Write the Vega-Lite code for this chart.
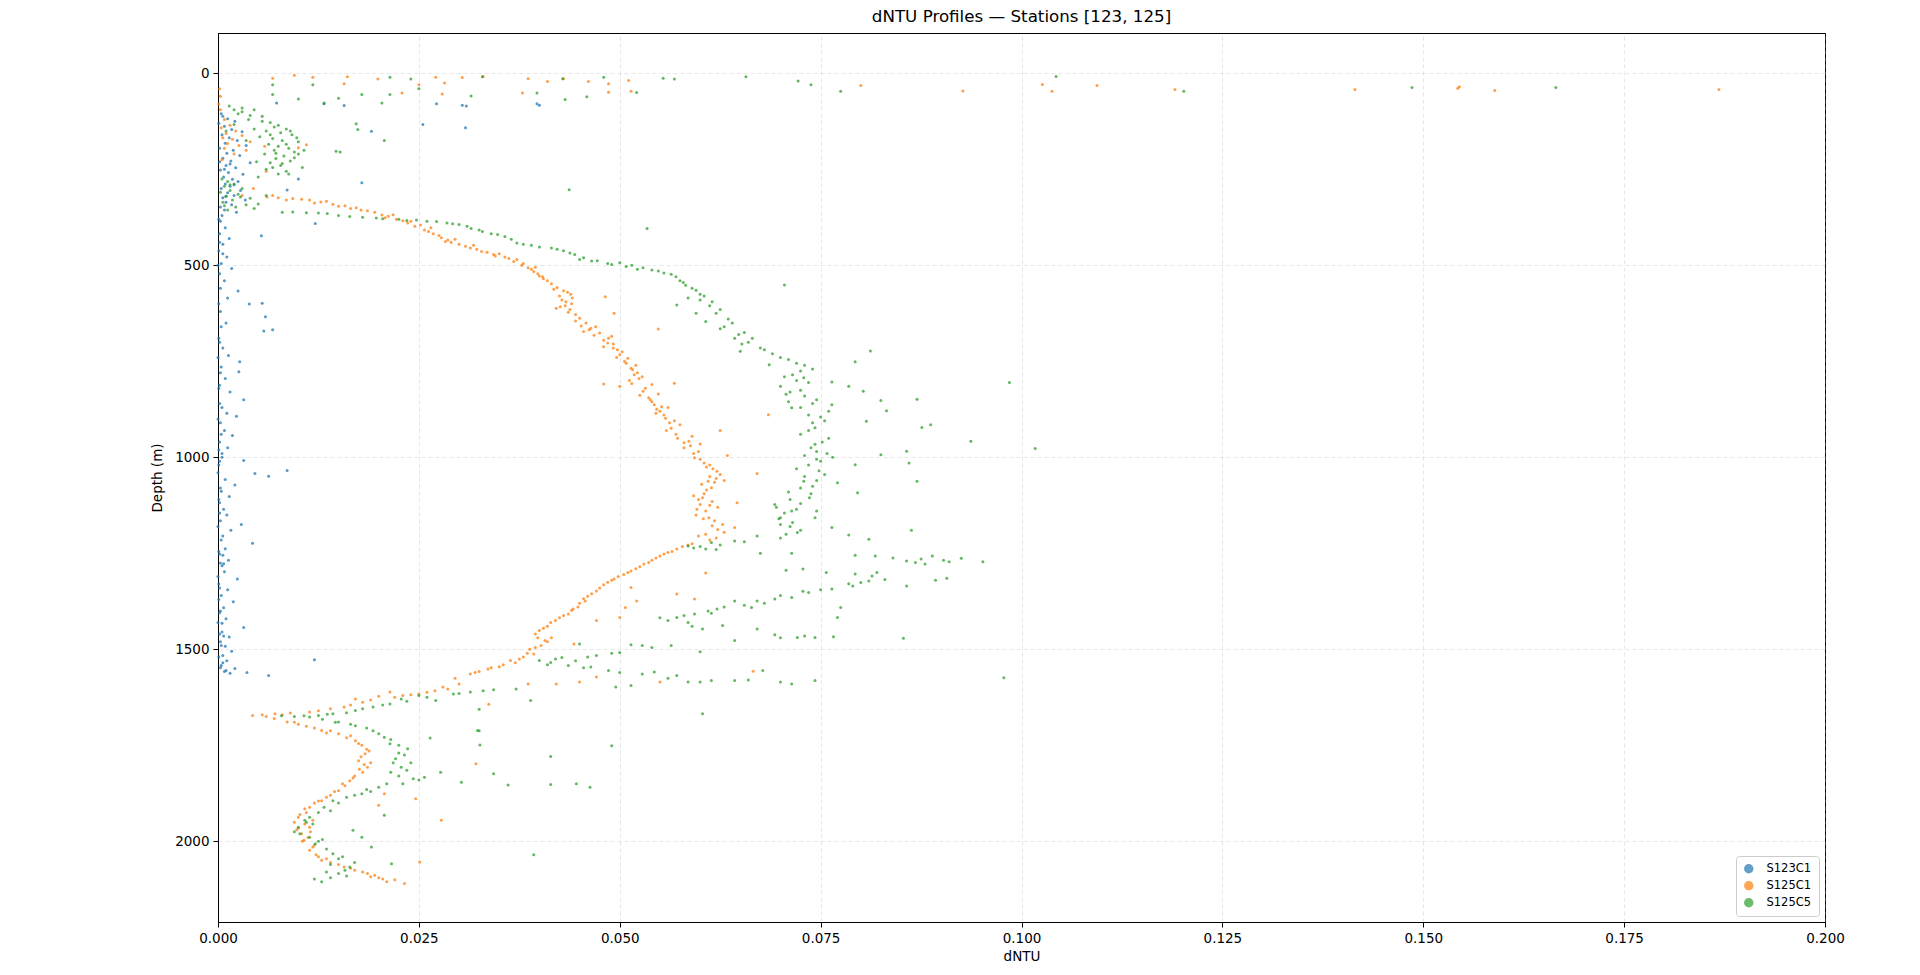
{
  "$schema": "https://vega.github.io/schema/vega-lite/v6.json",
  "width": 1607,
  "height": 889,
  "autosize": {"type": "none"},
  "padding": {"left": 218, "top": 33, "right": 95, "bottom": 53},
  "background": "white",
  "title": {
    "text": "dNTU Profiles — Stations [123, 125]",
    "fontSize": 16.7,
    "fontWeight": "normal",
    "font": "DejaVu Sans",
    "color": "black",
    "anchor": "middle",
    "offset": 7
  },
  "data": {
    "values": [
      {"s":"S123C1","x":0.0073,"d":77},{"s":"S123C1","x":0.0132,"d":79},{"s":"S123C1","x":0.0157,"d":84},{"s":"S123C1","x":0.0272,"d":79},{"s":"S123C1","x":0.0304,"d":83},{"s":"S123C1","x":0.0309,"d":85},{"s":"S123C1","x":0.0397,"d":79},{"s":"S123C1","x":0.0400,"d":83},{"s":"S123C1","x":0.0255,"d":133},{"s":"S123C1","x":0.0308,"d":142},{"s":"S123C1","x":0.0179,"d":285},{"s":"S123C1","x":0.0191,"d":151},{"s":"S123C1","x":0.0100,"d":275},{"s":"S123C1","x":0.0086,"d":304},{"s":"S123C1","x":0.0121,"d":391},{"s":"S123C1","x":0.0054,"d":423},
      {"s":"S123C1","x":0.0004,"d":105},{"s":"S123C1","x":0.0012,"d":118},{"s":"S123C1","x":0.0021,"d":125},{"s":"S123C1","x":0.0008,"d":138},{"s":"S123C1","x":0.0017,"d":146},{"s":"S123C1","x":0.0030,"d":152},{"s":"S123C1","x":0.0005,"d":160},{"s":"S123C1","x":0.0014,"d":168},{"s":"S123C1","x":0.0024,"d":175},{"s":"S123C1","x":0.0009,"d":182},{"s":"S123C1","x":0.0035,"d":188},{"s":"S123C1","x":0.0002,"d":195},{"s":"S123C1","x":0.0019,"d":200},{"s":"S123C1","x":0.0011,"d":208},{"s":"S123C1","x":0.0027,"d":214},{"s":"S123C1","x":0.0006,"d":221},{"s":"S123C1","x":0.0016,"d":228},{"s":"S123C1","x":0.0040,"d":233},{"s":"S123C1","x":0.0010,"d":240},{"s":"S123C1","x":0.0022,"d":246},{"s":"S123C1","x":0.0003,"d":252},{"s":"S123C1","x":0.0013,"d":258},{"s":"S123C1","x":0.0031,"d":263},{"s":"S123C1","x":0.0007,"d":270},{"s":"S123C1","x":0.0018,"d":276},{"s":"S123C1","x":0.0025,"d":282},{"s":"S123C1","x":0.0009,"d":288},{"s":"S123C1","x":0.0015,"d":294},{"s":"S123C1","x":0.0004,"d":300},{"s":"S123C1","x":0.0028,"d":305},{"s":"S123C1","x":0.0012,"d":311},{"s":"S123C1","x":0.0020,"d":318},{"s":"S123C1","x":0.0006,"d":324},{"s":"S123C1","x":0.0034,"d":330},{"s":"S123C1","x":0.0010,"d":336},{"s":"S123C1","x":0.0017,"d":342},{"s":"S123C1","x":0.0003,"d":348},{"s":"S123C1","x":0.0008,"d":356},{"s":"S123C1","x":0.0023,"d":362},{"s":"S123C1","x":0.0005,"d":370},
      {"s":"S123C1","x":0.0003,"d":385},{"s":"S123C1","x":0.0009,"d":402},{"s":"S123C1","x":0.0002,"d":418},{"s":"S123C1","x":0.0014,"d":430},{"s":"S123C1","x":0.0006,"d":445},{"s":"S123C1","x":0.0001,"d":462},{"s":"S123C1","x":0.0011,"d":478},{"s":"S123C1","x":0.0004,"d":495},{"s":"S123C1","x":0.0017,"d":508},{"s":"S123C1","x":0.0002,"d":522},{"s":"S123C1","x":0.0008,"d":540},{"s":"S123C1","x":0.0025,"d":567},{"s":"S123C1","x":0.0039,"d":601},{"s":"S123C1","x":0.0055,"d":599},{"s":"S123C1","x":0.0059,"d":634},{"s":"S123C1","x":0.0057,"d":671},{"s":"S123C1","x":0.0068,"d":668},{"s":"S123C1","x":0.0012,"d":585},{"s":"S123C1","x":0.0003,"d":620},{"s":"S123C1","x":0.0010,"d":650},{"s":"S123C1","x":0.0001,"d":690},{"s":"S123C1","x":0.0006,"d":715},{"s":"S123C1","x":0.0013,"d":735},{"s":"S123C1","x":0.0027,"d":751},{"s":"S123C1","x":0.0004,"d":765},{"s":"S123C1","x":0.0026,"d":777},{"s":"S123C1","x":0.0009,"d":795},{"s":"S123C1","x":0.0002,"d":812},{"s":"S123C1","x":0.0015,"d":830},{"s":"S123C1","x":0.0032,"d":850},{"s":"S123C1","x":0.0005,"d":870},{"s":"S123C1","x":0.0011,"d":885},{"s":"S123C1","x":0.0023,"d":893},{"s":"S123C1","x":0.0003,"d":910},{"s":"S123C1","x":0.0008,"d":930},{"s":"S123C1","x":0.0018,"d":943},{"s":"S123C1","x":0.0002,"d":960},{"s":"S123C1","x":0.0012,"d":975},{"s":"S123C1","x":0.0005,"d":990},{"s":"S123C1","x":0.0032,"d":1008},{"s":"S123C1","x":0.0001,"d":1020},{"s":"S123C1","x":0.0046,"d":1042},{"s":"S123C1","x":0.0063,"d":1049},{"s":"S123C1","x":0.0086,"d":1034},{"s":"S123C1","x":0.0009,"d":1058},{"s":"S123C1","x":0.0021,"d":1072},{"s":"S123C1","x":0.0004,"d":1088},{"s":"S123C1","x":0.0014,"d":1102},{"s":"S123C1","x":0.0002,"d":1118},{"s":"S123C1","x":0.0007,"d":1135},{"s":"S123C1","x":0.0011,"d":1150},{"s":"S123C1","x":0.0003,"d":1165},{"s":"S123C1","x":0.0029,"d":1175},{"s":"S123C1","x":0.0016,"d":1190},{"s":"S123C1","x":0.0006,"d":1205},{"s":"S123C1","x":0.0043,"d":1224},{"s":"S123C1","x":0.0009,"d":1238},{"s":"S123C1","x":0.0002,"d":1252},{"s":"S123C1","x":0.0013,"d":1268},{"s":"S123C1","x":0.0005,"d":1282},{"s":"S123C1","x":0.0008,"d":1298},{"s":"S123C1","x":0.0024,"d":1317},{"s":"S123C1","x":0.0001,"d":1330},{"s":"S123C1","x":0.0012,"d":1345},{"s":"S123C1","x":0.0004,"d":1360},{"s":"S123C1","x":0.0019,"d":1376},{"s":"S123C1","x":0.0007,"d":1392},{"s":"S123C1","x":0.0002,"d":1405},{"s":"S123C1","x":0.0010,"d":1420},{"s":"S123C1","x":0.0032,"d":1443},{"s":"S123C1","x":0.0005,"d":1455},{"s":"S123C1","x":0.0014,"d":1468},{"s":"S123C1","x":0.0003,"d":1480},{"s":"S123C1","x":0.0009,"d":1492},{"s":"S123C1","x":0.0017,"d":1505},{"s":"S123C1","x":0.0006,"d":1516},{"s":"S123C1","x":0.0120,"d":1527},{"s":"S123C1","x":0.0011,"d":1530},{"s":"S123C1","x":0.0004,"d":1542},{"s":"S123C1","x":0.0021,"d":1550},{"s":"S123C1","x":0.0036,"d":1560},{"s":"S123C1","x":0.0063,"d":1568},{"s":"S123C1","x":0.0008,"d":1558},{"s":"S123C1","x":0.0015,"d":1562},
      {"s":"S123C1","x":0.0001,"d":380},{"s":"S123C1","x":0.0002,"d":440},{"s":"S123C1","x":0.0000,"d":500},{"s":"S123C1","x":0.0003,"d":560},{"s":"S123C1","x":0.0001,"d":600},{"s":"S123C1","x":0.0004,"d":660},{"s":"S123C1","x":0.0002,"d":700},{"s":"S123C1","x":0.0000,"d":740},{"s":"S123C1","x":0.0003,"d":780},{"s":"S123C1","x":0.0001,"d":820},{"s":"S123C1","x":0.0002,"d":860},{"s":"S123C1","x":0.0000,"d":900},{"s":"S123C1","x":0.0004,"d":940},{"s":"S123C1","x":0.0001,"d":980},{"s":"S123C1","x":0.0002,"d":1010},{"s":"S123C1","x":0.0000,"d":1040},{"s":"S123C1","x":0.0003,"d":1080},{"s":"S123C1","x":0.0001,"d":1110},{"s":"S123C1","x":0.0002,"d":1145},{"s":"S123C1","x":0.0000,"d":1180},{"s":"S123C1","x":0.0004,"d":1215},{"s":"S123C1","x":0.0001,"d":1245},{"s":"S123C1","x":0.0003,"d":1275},{"s":"S123C1","x":0.0000,"d":1310},{"s":"S123C1","x":0.0002,"d":1340},{"s":"S123C1","x":0.0001,"d":1370},{"s":"S123C1","x":0.0003,"d":1400},{"s":"S123C1","x":0.0000,"d":1430},{"s":"S123C1","x":0.0002,"d":1460},{"s":"S123C1","x":0.0004,"d":1490},{"s":"S123C1","x":0.0001,"d":1520},{"s":"S123C1","x":0.0006,"d":1535},{"s":"S123C1","x":0.0003,"d":1548},{"s":"S123C1","x":0.0010,"d":1555},{"s":"S123C1","x":0.0007,"d":1465},{"s":"S123C1","x":0.0005,"d":1432},{"s":"S123C1","x":0.0006,"d":1255},{"s":"S123C1","x":0.0007,"d":1277},{"s":"S123C1","x":0.0005,"d":1000},{"s":"S123C1","x":0.0006,"d":470},{"s":"S123C1","x":0.0008,"d":250},{"s":"S123C1","x":0.0002,"d":230},{"s":"S123C1","x":0.0001,"d":130},{"s":"S123C1","x":0.0006,"d":112},{"s":"S123C1","x":0.0015,"d":236},{"s":"S123C1","x":0.0020,"d":290},{"s":"S123C1","x":0.0010,"d":320},
      {"s":"S125C1","x":0.0068,"d":13},{"s":"S125C1","x":0.0118,"d":10},{"s":"S125C1","x":0.0161,"d":9},{"s":"S125C1","x":0.0199,"d":15},{"s":"S125C1","x":0.0157,"d":27},{"s":"S125C1","x":0.0271,"d":10},{"s":"S125C1","x":0.0282,"d":25},{"s":"S125C1","x":0.0304,"d":11},{"s":"S125C1","x":0.0279,"d":54},{"s":"S125C1","x":0.0229,"d":51},{"s":"S125C1","x":0.0386,"d":14},{"s":"S125C1","x":0.0410,"d":21},{"s":"S125C1","x":0.0379,"d":51},{"s":"S125C1","x":0.0461,"d":21},{"s":"S125C1","x":0.0486,"d":27},{"s":"S125C1","x":0.0486,"d":49},{"s":"S125C1","x":0.0511,"d":19},{"s":"S125C1","x":0.0514,"d":47},{"s":"S125C1","x":0.0800,"d":32},{"s":"S125C1","x":0.0927,"d":46},{"s":"S125C1","x":0.1026,"d":29},{"s":"S125C1","x":0.1038,"d":47},{"s":"S125C1","x":0.1094,"d":32},{"s":"S125C1","x":0.1191,"d":42},{"s":"S125C1","x":0.1415,"d":42},{"s":"S125C1","x":0.1543,"d":39},{"s":"S125C1","x":0.1545,"d":35},{"s":"S125C1","x":0.1589,"d":45},{"s":"S125C1","x":0.1868,"d":42},{"s":"S125C1","x":0.0250,"d":30},{"s":"S125C1","x":0.0095,"d":5},{"s":"S125C1","x":0.0330,"d":8},{"s":"S125C1","x":0.0430,"d":14},
      {"s":"S125C1","x":0.0002,"d":40},{"s":"S125C1","x":0.0003,"d":60},{"s":"S125C1","x":0.0001,"d":80},{"s":"S125C1","x":0.0003,"d":95},{"s":"S125C1","x":0.0008,"d":120},{"s":"S125C1","x":0.0015,"d":135},{"s":"S125C1","x":0.0004,"d":142},{"s":"S125C1","x":0.0022,"d":150},{"s":"S125C1","x":0.0010,"d":157},{"s":"S125C1","x":0.0030,"d":162},{"s":"S125C1","x":0.0006,"d":168},{"s":"S125C1","x":0.0018,"d":172},{"s":"S125C1","x":0.0040,"d":178},{"s":"S125C1","x":0.0012,"d":183},{"s":"S125C1","x":0.0026,"d":188},{"s":"S125C1","x":0.0058,"d":190},{"s":"S125C1","x":0.0008,"d":195},{"s":"S125C1","x":0.0035,"d":200},{"s":"S125C1","x":0.0110,"d":186},{"s":"S125C1","x":0.0100,"d":194},{"s":"S125C1","x":0.0020,"d":210},{"s":"S125C1","x":0.0005,"d":225},{"s":"S125C1","x":0.0060,"d":255},{"s":"S125C1","x":0.0044,"d":300},{"s":"S125C1","x":0.0030,"d":318},
      {"s":"S125C1","x":0.0061,"d":322},{"s":"S125C1","x":0.0075,"d":324},{"s":"S125C1","x":0.0093,"d":326},{"s":"S125C1","x":0.0104,"d":328},{"s":"S125C1","x":0.0114,"d":330},{"s":"S125C1","x":0.0128,"d":335},{"s":"S125C1","x":0.0143,"d":341},{"s":"S125C1","x":0.0158,"d":345},{"s":"S125C1","x":0.0172,"d":350},{"s":"S125C1","x":0.0186,"d":358},{"s":"S125C1","x":0.0204,"d":369},{"s":"S125C1","x":0.0212,"d":372},{"s":"S125C1","x":0.0222,"d":380},{"s":"S125C1","x":0.0236,"d":390},{"s":"S125C1","x":0.0245,"d":398},{"s":"S125C1","x":0.0257,"d":408},{"s":"S125C1","x":0.0268,"d":418},{"s":"S125C1","x":0.0278,"d":428},{"s":"S125C1","x":0.0286,"d":434},{"s":"S125C1","x":0.0300,"d":445},{"s":"S125C1","x":0.0314,"d":455},{"s":"S125C1","x":0.0328,"d":464},{"s":"S125C1","x":0.0343,"d":472},{"s":"S125C1","x":0.0357,"d":478},{"s":"S125C1","x":0.0372,"d":485},{"s":"S125C1","x":0.0380,"d":495},{"s":"S125C1","x":0.0386,"d":506},{"s":"S125C1","x":0.0393,"d":516},{"s":"S125C1","x":0.0400,"d":528},{"s":"S125C1","x":0.0410,"d":540},{"s":"S125C1","x":0.0422,"d":558},{"s":"S125C1","x":0.0430,"d":566},{"s":"S125C1","x":0.0439,"d":575},{"s":"S125C1","x":0.0428,"d":590},{"s":"S125C1","x":0.0421,"d":612},{"s":"S125C1","x":0.0440,"d":600},{"s":"S125C1","x":0.0436,"d":622},{"s":"S125C1","x":0.0450,"d":638},{"s":"S125C1","x":0.0458,"d":650},{"s":"S125C1","x":0.0464,"d":664},{"s":"S125C1","x":0.0475,"d":676},{"s":"S125C1","x":0.0486,"d":690},{"s":"S125C1","x":0.0492,"d":705},{"s":"S125C1","x":0.0480,"d":712},{"s":"S125C1","x":0.0500,"d":733},{"s":"S125C1","x":0.0506,"d":750},{"s":"S125C1","x":0.0514,"d":768},{"s":"S125C1","x":0.0522,"d":780},{"s":"S125C1","x":0.0500,"d":815},{"s":"S125C1","x":0.0512,"d":800},{"s":"S125C1","x":0.0529,"d":828},{"s":"S125C1","x":0.0536,"d":845},{"s":"S125C1","x":0.0543,"d":863},{"s":"S125C1","x":0.0550,"d":880},{"s":"S125C1","x":0.0557,"d":898},{"s":"S125C1","x":0.0564,"d":924},{"s":"S125C1","x":0.0570,"d":940},{"s":"S125C1","x":0.0586,"d":958},{"s":"S125C1","x":0.0580,"d":975},{"s":"S125C1","x":0.0593,"d":1001},{"s":"S125C1","x":0.0605,"d":1015},{"s":"S125C1","x":0.0621,"d":1036},{"s":"S125C1","x":0.0612,"d":1050},{"s":"S125C1","x":0.0618,"d":1065},{"s":"S125C1","x":0.0614,"d":1079},{"s":"S125C1","x":0.0605,"d":1095},{"s":"S125C1","x":0.0598,"d":1110},{"s":"S125C1","x":0.0600,"d":1123},{"s":"S125C1","x":0.0607,"d":1140},{"s":"S125C1","x":0.0611,"d":1157},{"s":"S125C1","x":0.0628,"d":1175},{"s":"S125C1","x":0.0643,"d":1183},{"s":"S125C1","x":0.0607,"d":1200},{"s":"S125C1","x":0.0620,"d":1210},{"s":"S125C1","x":0.0590,"d":1225},{"s":"S125C1","x":0.0571,"d":1239},{"s":"S125C1","x":0.0550,"d":1257},{"s":"S125C1","x":0.0536,"d":1274},{"s":"S125C1","x":0.0525,"d":1285},{"s":"S125C1","x":0.0514,"d":1296},{"s":"S125C1","x":0.0493,"d":1317},{"s":"S125C1","x":0.0480,"d":1332},{"s":"S125C1","x":0.0471,"d":1348},{"s":"S125C1","x":0.0457,"d":1374},{"s":"S125C1","x":0.0448,"d":1390},{"s":"S125C1","x":0.0436,"d":1408},{"s":"S125C1","x":0.0414,"d":1430},{"s":"S125C1","x":0.0400,"d":1451},{"s":"S125C1","x":0.0407,"d":1477},{"s":"S125C1","x":0.0393,"d":1512},{"s":"S125C1","x":0.0380,"d":1520},{"s":"S125C1","x":0.0364,"d":1529},{"s":"S125C1","x":0.0336,"d":1551},{"s":"S125C1","x":0.0314,"d":1564},{"s":"S125C1","x":0.0286,"d":1603},{"s":"S125C1","x":0.0250,"d":1616},{"s":"S125C1","x":0.0214,"d":1611},{"s":"S125C1","x":0.0200,"d":1622},{"s":"S125C1","x":0.0171,"d":1629},{"s":"S125C1","x":0.0157,"d":1650},{"s":"S125C1","x":0.0114,"d":1663},{"s":"S125C1","x":0.0071,"d":1668},{"s":"S125C1","x":0.0043,"d":1672},{"s":"S125C1","x":0.0060,"d":1675},{"s":"S125C1","x":0.0086,"d":1689},{"s":"S125C1","x":0.0100,"d":1695},{"s":"S125C1","x":0.0129,"d":1711},{"s":"S125C1","x":0.0150,"d":1720},{"s":"S125C1","x":0.0171,"d":1738},{"s":"S125C1","x":0.0179,"d":1750},{"s":"S125C1","x":0.0183,"d":1772},{"s":"S125C1","x":0.0175,"d":1790},{"s":"S125C1","x":0.0186,"d":1807},{"s":"S125C1","x":0.0180,"d":1820},{"s":"S125C1","x":0.0164,"d":1842},{"s":"S125C1","x":0.0150,"d":1868},{"s":"S125C1","x":0.0129,"d":1894},{"s":"S125C1","x":0.0114,"d":1911},{"s":"S125C1","x":0.0100,"d":1937},{"s":"S125C1","x":0.0095,"d":1950},{"s":"S125C1","x":0.0114,"d":1963},{"s":"S125C1","x":0.0104,"d":1980},{"s":"S125C1","x":0.0107,"d":1997},{"s":"S125C1","x":0.0114,"d":2023},{"s":"S125C1","x":0.0129,"d":2049},{"s":"S125C1","x":0.0157,"d":2067},{"s":"S125C1","x":0.0186,"d":2084},{"s":"S125C1","x":0.0200,"d":2095},{"s":"S125C1","x":0.0210,"d":2105},{"s":"S125C1","x":0.0232,"d":2110},
      {"s":"S125C1","x":0.0240,"d":385},{"s":"S125C1","x":0.0265,"d":402},{"s":"S125C1","x":0.0290,"d":440},{"s":"S125C1","x":0.0322,"d":458},{"s":"S125C1","x":0.0350,"d":470},{"s":"S125C1","x":0.0395,"d":505},{"s":"S125C1","x":0.0405,"d":535},{"s":"S125C1","x":0.0425,"d":580},{"s":"S125C1","x":0.0432,"d":605},{"s":"S125C1","x":0.0445,"d":628},{"s":"S125C1","x":0.0470,"d":660},{"s":"S125C1","x":0.0455,"d":672},{"s":"S125C1","x":0.0490,"d":685},{"s":"S125C1","x":0.0497,"d":720},{"s":"S125C1","x":0.0510,"d":742},{"s":"S125C1","x":0.0520,"d":760},{"s":"S125C1","x":0.0528,"d":790},{"s":"S125C1","x":0.0540,"d":810},{"s":"S125C1","x":0.0548,"d":835},{"s":"S125C1","x":0.0538,"d":850},{"s":"S125C1","x":0.0560,"d":870},{"s":"S125C1","x":0.0545,"d":885},{"s":"S125C1","x":0.0568,"d":905},{"s":"S125C1","x":0.0575,"d":915},{"s":"S125C1","x":0.0590,"d":945},{"s":"S125C1","x":0.0600,"d":965},{"s":"S125C1","x":0.0598,"d":985},{"s":"S125C1","x":0.0612,"d":1020},{"s":"S125C1","x":0.0625,"d":1045},{"s":"S125C1","x":0.0630,"d":1060},{"s":"S125C1","x":0.0602,"d":1070},{"s":"S125C1","x":0.0592,"d":1100},{"s":"S125C1","x":0.0615,"d":1115},{"s":"S125C1","x":0.0622,"d":1130},{"s":"S125C1","x":0.0595,"d":1150},{"s":"S125C1","x":0.0618,"d":1165},{"s":"S125C1","x":0.0630,"d":1195},{"s":"S125C1","x":0.0578,"d":1232},{"s":"S125C1","x":0.0560,"d":1248},{"s":"S125C1","x":0.0545,"d":1262},{"s":"S125C1","x":0.0530,"d":1278},{"s":"S125C1","x":0.0505,"d":1305},{"s":"S125C1","x":0.0498,"d":1310},{"s":"S125C1","x":0.0485,"d":1325},{"s":"S125C1","x":0.0465,"d":1355},{"s":"S125C1","x":0.0450,"d":1380},{"s":"S125C1","x":0.0440,"d":1398},{"s":"S125C1","x":0.0425,"d":1418},{"s":"S125C1","x":0.0410,"d":1440},{"s":"S125C1","x":0.0395,"d":1460},{"s":"S125C1","x":0.0415,"d":1470},{"s":"S125C1","x":0.0402,"d":1490},{"s":"S125C1","x":0.0388,"d":1500},{"s":"S125C1","x":0.0370,"d":1535},{"s":"S125C1","x":0.0350,"d":1545},{"s":"S125C1","x":0.0325,"d":1558},{"s":"S125C1","x":0.0300,"d":1590},{"s":"S125C1","x":0.0270,"d":1608},{"s":"S125C1","x":0.0230,"d":1620},{"s":"S125C1","x":0.0190,"d":1632},{"s":"S125C1","x":0.0140,"d":1655},{"s":"S125C1","x":0.0080,"d":1670},{"s":"S125C1","x":0.0110,"d":1700},{"s":"S125C1","x":0.0140,"d":1712},{"s":"S125C1","x":0.0165,"d":1725},{"s":"S125C1","x":0.0185,"d":1760},{"s":"S125C1","x":0.0190,"d":1795},{"s":"S125C1","x":0.0170,"d":1830},{"s":"S125C1","x":0.0158,"d":1855},{"s":"S125C1","x":0.0140,"d":1880},{"s":"S125C1","x":0.0120,"d":1900},{"s":"S125C1","x":0.0110,"d":1925},{"s":"S125C1","x":0.0118,"d":1945},{"s":"S125C1","x":0.0098,"d":1970},{"s":"S125C1","x":0.0112,"d":1990},{"s":"S125C1","x":0.0120,"d":2010},{"s":"S125C1","x":0.0122,"d":2035},{"s":"S125C1","x":0.0140,"d":2055},{"s":"S125C1","x":0.0170,"d":2075},{"s":"S125C1","x":0.0195,"d":2088},{"s":"S125C1","x":0.0220,"d":2100},
      {"s":"S125C1","x":0.0068,"d":318},{"s":"S125C1","x":0.0085,"d":330},{"s":"S125C1","x":0.0120,"d":338},{"s":"S125C1","x":0.0135,"d":333},{"s":"S125C1","x":0.0150,"d":346},{"s":"S125C1","x":0.0165,"d":352},{"s":"S125C1","x":0.0178,"d":356},{"s":"S125C1","x":0.0195,"d":362},{"s":"S125C1","x":0.0208,"d":376},{"s":"S125C1","x":0.0218,"d":368},{"s":"S125C1","x":0.0230,"d":384},{"s":"S125C1","x":0.0252,"d":395},{"s":"S125C1","x":0.0262,"d":412},{"s":"S125C1","x":0.0275,"d":422},{"s":"S125C1","x":0.0283,"d":438},{"s":"S125C1","x":0.0295,"d":432},{"s":"S125C1","x":0.0308,"d":450},{"s":"S125C1","x":0.0318,"d":448},{"s":"S125C1","x":0.0335,"d":466},{"s":"S125C1","x":0.0345,"d":476},{"s":"S125C1","x":0.0362,"d":482},{"s":"S125C1","x":0.0368,"d":490},{"s":"S125C1","x":0.0378,"d":500},{"s":"S125C1","x":0.0390,"d":510},{"s":"S125C1","x":0.0398,"d":522},{"s":"S125C1","x":0.0404,"d":530},{"s":"S125C1","x":0.0415,"d":548},{"s":"S125C1","x":0.0418,"d":562},{"s":"S125C1","x":0.0435,"d":570},{"s":"S125C1","x":0.0441,"d":585},{"s":"S125C1","x":0.0433,"d":595},{"s":"S125C1","x":0.0426,"d":608},{"s":"S125C1","x":0.0438,"d":615},{"s":"S125C1","x":0.0445,"d":645},{"s":"S125C1","x":0.0452,"d":658},{"s":"S125C1","x":0.0462,"d":668},{"s":"S125C1","x":0.0468,"d":682},{"s":"S125C1","x":0.0480,"d":695},{"s":"S125C1","x":0.0485,"d":702},{"s":"S125C1","x":0.0492,"d":715},{"s":"S125C1","x":0.0503,"d":725},{"s":"S125C1","x":0.0496,"d":740},{"s":"S125C1","x":0.0508,"d":755},{"s":"S125C1","x":0.0516,"d":772},{"s":"S125C1","x":0.0518,"d":785},{"s":"S125C1","x":0.0524,"d":795},{"s":"S125C1","x":0.0515,"d":808},{"s":"S125C1","x":0.0532,"d":820},{"s":"S125C1","x":0.0525,"d":838},{"s":"S125C1","x":0.0540,"d":855},{"s":"S125C1","x":0.0552,"d":868},{"s":"S125C1","x":0.0546,"d":875},{"s":"S125C1","x":0.0555,"d":890},{"s":"S125C1","x":0.0562,"d":910},{"s":"S125C1","x":0.0558,"d":930},{"s":"S125C1","x":0.0572,"d":950},{"s":"S125C1","x":0.0580,"d":962},{"s":"S125C1","x":0.0588,"d":970},{"s":"S125C1","x":0.0592,"d":990},{"s":"S125C1","x":0.0600,"d":1005},{"s":"S125C1","x":0.0608,"d":1025},{"s":"S125C1","x":0.0616,"d":1030},{"s":"S125C1","x":0.0620,"d":1055},{"s":"S125C1","x":0.0610,"d":1062},{"s":"S125C1","x":0.0608,"d":1085},{"s":"S125C1","x":0.0603,"d":1105},{"s":"S125C1","x":0.0612,"d":1125},{"s":"S125C1","x":0.0596,"d":1135},{"s":"S125C1","x":0.0604,"d":1160},{"s":"S125C1","x":0.0615,"d":1178},{"s":"S125C1","x":0.0622,"d":1188},{"s":"S125C1","x":0.0598,"d":1205},{"s":"S125C1","x":0.0612,"d":1215},{"s":"S125C1","x":0.0585,"d":1228},{"s":"S125C1","x":0.0565,"d":1245},{"s":"S125C1","x":0.0555,"d":1252},{"s":"S125C1","x":0.0540,"d":1268},{"s":"S125C1","x":0.0520,"d":1290},{"s":"S125C1","x":0.0510,"d":1300},{"s":"S125C1","x":0.0490,"d":1320},{"s":"S125C1","x":0.0475,"d":1340},{"s":"S125C1","x":0.0460,"d":1362},{"s":"S125C1","x":0.0455,"d":1368},{"s":"S125C1","x":0.0442,"d":1395},{"s":"S125C1","x":0.0430,"d":1412},{"s":"S125C1","x":0.0420,"d":1425},{"s":"S125C1","x":0.0405,"d":1445},{"s":"S125C1","x":0.0398,"d":1470},{"s":"S125C1","x":0.0410,"d":1480},{"s":"S125C1","x":0.0395,"d":1495},{"s":"S125C1","x":0.0385,"d":1510},{"s":"S125C1","x":0.0375,"d":1525},{"s":"S125C1","x":0.0355,"d":1540},{"s":"S125C1","x":0.0340,"d":1548},{"s":"S125C1","x":0.0320,"d":1560},{"s":"S125C1","x":0.0295,"d":1575},{"s":"S125C1","x":0.0280,"d":1598},{"s":"S125C1","x":0.0260,"d":1612},{"s":"S125C1","x":0.0240,"d":1618},{"s":"S125C1","x":0.0220,"d":1625},{"s":"S125C1","x":0.0180,"d":1638},{"s":"S125C1","x":0.0165,"d":1645},{"s":"S125C1","x":0.0125,"d":1660},{"s":"S125C1","x":0.0090,"d":1666},{"s":"S125C1","x":0.0055,"d":1670},{"s":"S125C1","x":0.0070,"d":1680},{"s":"S125C1","x":0.0095,"d":1690},{"s":"S125C1","x":0.0120,"d":1705},{"s":"S125C1","x":0.0135,"d":1718},{"s":"S125C1","x":0.0160,"d":1730},{"s":"S125C1","x":0.0175,"d":1745},{"s":"S125C1","x":0.0188,"d":1765},{"s":"S125C1","x":0.0178,"d":1780},{"s":"S125C1","x":0.0182,"d":1800},{"s":"S125C1","x":0.0176,"d":1812},{"s":"S125C1","x":0.0168,"d":1835},{"s":"S125C1","x":0.0155,"d":1850},{"s":"S125C1","x":0.0145,"d":1870},{"s":"S125C1","x":0.0135,"d":1885},{"s":"S125C1","x":0.0125,"d":1895},{"s":"S125C1","x":0.0108,"d":1915},{"s":"S125C1","x":0.0102,"d":1930},{"s":"S125C1","x":0.0108,"d":1955},{"s":"S125C1","x":0.0100,"d":1965},{"s":"S125C1","x":0.0115,"d":1975},{"s":"S125C1","x":0.0105,"d":2000},{"s":"S125C1","x":0.0118,"d":2015},{"s":"S125C1","x":0.0125,"d":2040},{"s":"S125C1","x":0.0135,"d":2045},{"s":"S125C1","x":0.0150,"d":2060},{"s":"S125C1","x":0.0165,"d":2070},{"s":"S125C1","x":0.0180,"d":2080},{"s":"S125C1","x":0.0190,"d":2092},{"s":"S125C1","x":0.0205,"d":2098},
      {"s":"S125C1","x":0.0386,"d":1590},{"s":"S125C1","x":0.0421,"d":1590},{"s":"S125C1","x":0.0450,"d":1585},{"s":"S125C1","x":0.0471,"d":1572},{"s":"S125C1","x":0.0500,"d":1417},{"s":"S125C1","x":0.0507,"d":1391},{"s":"S125C1","x":0.0521,"d":1374},{"s":"S125C1","x":0.0514,"d":1339},{"s":"S125C1","x":0.0471,"d":1425},{"s":"S125C1","x":0.0443,"d":1486},{"s":"S125C1","x":0.0666,"d":1557},{"s":"S125C1","x":0.0607,"d":1301},{"s":"S125C1","x":0.0593,"d":1369},{"s":"S125C1","x":0.0571,"d":1356},{"s":"S125C1","x":0.0550,"d":1585},{"s":"S125C1","x":0.0548,"d":666},{"s":"S125C1","x":0.0685,"d":889},{"s":"S125C1","x":0.0671,"d":1042},{"s":"S125C1","x":0.0482,"d":582},{"s":"S125C1","x":0.0480,"d":809},{"s":"S125C1","x":0.0493,"d":625},{"s":"S125C1","x":0.0568,"d":807},{"s":"S125C1","x":0.0625,"d":930},{"s":"S125C1","x":0.0646,"d":1118},{"s":"S125C1","x":0.0634,"d":995},{"s":"S125C1","x":0.0251,"d":2054},{"s":"S125C1","x":0.0278,"d":1945},{"s":"S125C1","x":0.0321,"d":1798},{"s":"S125C1","x":0.0337,"d":1643},{"s":"S125C1","x":0.0200,"d":1906},{"s":"S125C1","x":0.0246,"d":1889},{"s":"S125C1","x":0.0207,"d":1876},
      {"s":"S125C5","x":0.0068,"d":30},{"s":"S125C5","x":0.0118,"d":30},{"s":"S125C5","x":0.0214,"d":10},{"s":"S125C5","x":0.0329,"d":9},{"s":"S125C5","x":0.0429,"d":14},{"s":"S125C5","x":0.0480,"d":10},{"s":"S125C5","x":0.0554,"d":13},{"s":"S125C5","x":0.0568,"d":15},{"s":"S125C5","x":0.0657,"d":9},{"s":"S125C5","x":0.0722,"d":20},{"s":"S125C5","x":0.0738,"d":30},{"s":"S125C5","x":0.0775,"d":47},{"s":"S125C5","x":0.1043,"d":8},{"s":"S125C5","x":0.1202,"d":47},{"s":"S125C5","x":0.1486,"d":37},{"s":"S125C5","x":0.1665,"d":37},{"s":"S125C5","x":0.0068,"d":55},{"s":"S125C5","x":0.0100,"d":67},{"s":"S125C5","x":0.0132,"d":77},{"s":"S125C5","x":0.0150,"d":65},{"s":"S125C5","x":0.0179,"d":55},{"s":"S125C5","x":0.0204,"d":77},{"s":"S125C5","x":0.0214,"d":55},{"s":"S125C5","x":0.0315,"d":59},{"s":"S125C5","x":0.0397,"d":51},{"s":"S125C5","x":0.0432,"d":68},{"s":"S125C5","x":0.0459,"d":61},{"s":"S125C5","x":0.0521,"d":50},{"s":"S125C5","x":0.0172,"d":131},{"s":"S125C5","x":0.0174,"d":146},{"s":"S125C5","x":0.0207,"d":175},{"s":"S125C5","x":0.0147,"d":203},{"s":"S125C5","x":0.0152,"d":205},{"s":"S125C5","x":0.0437,"d":303},{"s":"S125C5","x":0.0534,"d":404},{"s":"S125C5","x":0.0705,"d":551},{"s":"S125C5","x":0.0240,"d":15},{"s":"S125C5","x":0.0250,"d":40},
      {"s":"S125C5","x":0.0014,"d":85},{"s":"S125C5","x":0.0030,"d":90},{"s":"S125C5","x":0.0045,"d":95},{"s":"S125C5","x":0.0025,"d":105},{"s":"S125C5","x":0.0055,"d":112},{"s":"S125C5","x":0.0038,"d":120},{"s":"S125C5","x":0.0065,"d":128},{"s":"S125C5","x":0.0020,"d":133},{"s":"S125C5","x":0.0070,"d":140},{"s":"S125C5","x":0.0085,"d":145},{"s":"S125C5","x":0.0060,"d":150},{"s":"S125C5","x":0.0078,"d":155},{"s":"S125C5","x":0.0092,"d":160},{"s":"S125C5","x":0.0052,"d":165},{"s":"S125C5","x":0.0068,"d":170},{"s":"S125C5","x":0.0080,"d":175},{"s":"S125C5","x":0.0100,"d":178},{"s":"S125C5","x":0.0063,"d":185},{"s":"S125C5","x":0.0075,"d":190},{"s":"S125C5","x":0.0088,"d":195},{"s":"S125C5","x":0.0070,"d":200},{"s":"S125C5","x":0.0095,"d":205},{"s":"S125C5","x":0.0058,"d":210},{"s":"S125C5","x":0.0082,"d":215},{"s":"S125C5","x":0.0072,"d":222},{"s":"S125C5","x":0.0090,"d":228},{"s":"S125C5","x":0.0065,"d":233},{"s":"S125C5","x":0.0078,"d":240},{"s":"S125C5","x":0.0105,"d":245},{"s":"S125C5","x":0.0060,"d":250},{"s":"S125C5","x":0.0085,"d":255},{"s":"S125C5","x":0.0075,"d":262},{"s":"S125C5","x":0.0050,"d":270},{"s":"S125C5","x":0.0040,"d":110},{"s":"S125C5","x":0.0010,"d":150},{"s":"S125C5","x":0.0035,"d":175},{"s":"S125C5","x":0.0048,"d":230},{"s":"S125C5","x":0.0107,"d":200},{"s":"S125C5","x":0.0098,"d":168},
      {"s":"S125C5","x":0.0075,"d":135},{"s":"S125C5","x":0.0090,"d":150},{"s":"S125C5","x":0.0065,"d":160},{"s":"S125C5","x":0.0085,"d":185},{"s":"S125C5","x":0.0072,"d":208},{"s":"S125C5","x":0.0095,"d":220},{"s":"S125C5","x":0.0080,"d":235},{"s":"S125C5","x":0.0068,"d":245},{"s":"S125C5","x":0.0088,"d":262},{"s":"S125C5","x":0.0055,"d":125},{"s":"S125C5","x":0.0045,"d":145},{"s":"S125C5","x":0.0030,"d":100},{"s":"S125C5","x":0.0020,"d":95},{"s":"S125C5","x":0.0100,"d":210},{"s":"S125C5","x":0.0015,"d":290},{"s":"S125C5","x":0.0028,"d":322},{"s":"S125C5","x":0.0008,"d":345},
      {"s":"S125C5","x":0.0005,"d":275},{"s":"S125C5","x":0.0012,"d":282},{"s":"S125C5","x":0.0020,"d":288},{"s":"S125C5","x":0.0008,"d":294},{"s":"S125C5","x":0.0030,"d":300},{"s":"S125C5","x":0.0015,"d":305},{"s":"S125C5","x":0.0003,"d":310},{"s":"S125C5","x":0.0025,"d":315},{"s":"S125C5","x":0.0010,"d":320},{"s":"S125C5","x":0.0040,"d":325},{"s":"S125C5","x":0.0018,"d":330},{"s":"S125C5","x":0.0006,"d":336},{"s":"S125C5","x":0.0035,"d":342},{"s":"S125C5","x":0.0022,"d":348},{"s":"S125C5","x":0.0045,"d":352},{"s":"S125C5","x":0.0012,"d":356},{"s":"S125C5","x":0.0050,"d":340},{"s":"S125C5","x":0.0060,"d":318},
      {"s":"S125C5","x":0.0093,"d":361},{"s":"S125C5","x":0.0136,"d":365},{"s":"S125C5","x":0.0164,"d":373},{"s":"S125C5","x":0.0197,"d":377},{"s":"S125C5","x":0.0247,"d":382},{"s":"S125C5","x":0.0272,"d":386},{"s":"S125C5","x":0.0300,"d":394},{"s":"S125C5","x":0.0329,"d":412},{"s":"S125C5","x":0.0357,"d":425},{"s":"S125C5","x":0.0372,"d":442},{"s":"S125C5","x":0.0415,"d":455},{"s":"S125C5","x":0.0444,"d":472},{"s":"S125C5","x":0.0465,"d":489},{"s":"S125C5","x":0.0500,"d":493},{"s":"S125C5","x":0.0529,"d":506},{"s":"S125C5","x":0.0564,"d":523},{"s":"S125C5","x":0.0579,"d":545},{"s":"S125C5","x":0.0600,"d":575},{"s":"S125C5","x":0.0571,"d":603},{"s":"S125C5","x":0.0607,"d":646},{"s":"S125C5","x":0.0643,"d":690},{"s":"S125C5","x":0.0650,"d":724},{"s":"S125C5","x":0.0686,"d":759},{"s":"S125C5","x":0.0729,"d":793},{"s":"S125C5","x":0.0707,"d":836},{"s":"S125C5","x":0.0714,"d":871},{"s":"S125C5","x":0.0743,"d":923},{"s":"S125C5","x":0.0743,"d":966},{"s":"S125C5","x":0.0750,"d":1010},{"s":"S125C5","x":0.0729,"d":1062},{"s":"S125C5","x":0.0736,"d":1105},{"s":"S125C5","x":0.0700,"d":1157},{"s":"S125C5","x":0.0707,"d":1200},
      {"s":"S125C5","x":0.0110,"d":363},{"s":"S125C5","x":0.0180,"d":375},{"s":"S125C5","x":0.0225,"d":380},{"s":"S125C5","x":0.0285,"d":390},{"s":"S125C5","x":0.0315,"d":404},{"s":"S125C5","x":0.0340,"d":418},{"s":"S125C5","x":0.0390,"d":448},{"s":"S125C5","x":0.0430,"d":462},{"s":"S125C5","x":0.0455,"d":480},{"s":"S125C5","x":0.0485,"d":495},{"s":"S125C5","x":0.0515,"d":500},{"s":"S125C5","x":0.0548,"d":515},{"s":"S125C5","x":0.0590,"d":560},{"s":"S125C5","x":0.0585,"d":585},{"s":"S125C5","x":0.0615,"d":595},{"s":"S125C5","x":0.0625,"d":615},{"s":"S125C5","x":0.0595,"d":625},{"s":"S125C5","x":0.0630,"d":660},{"s":"S125C5","x":0.0655,"d":675},{"s":"S125C5","x":0.0660,"d":700},{"s":"S125C5","x":0.0675,"d":715},{"s":"S125C5","x":0.0700,"d":740},{"s":"S125C5","x":0.0720,"d":755},{"s":"S125C5","x":0.0740,"d":770},{"s":"S125C5","x":0.0715,"d":785},{"s":"S125C5","x":0.0735,"d":805},{"s":"S125C5","x":0.0700,"d":815},{"s":"S125C5","x":0.0725,"d":825},{"s":"S125C5","x":0.0745,"d":850},{"s":"S125C5","x":0.0710,"d":855},{"s":"S125C5","x":0.0760,"d":880},{"s":"S125C5","x":0.0735,"d":890},{"s":"S125C5","x":0.0755,"d":905},{"s":"S125C5","x":0.0725,"d":940},{"s":"S125C5","x":0.0760,"d":950},{"s":"S125C5","x":0.0745,"d":985},{"s":"S125C5","x":0.0730,"d":995},{"s":"S125C5","x":0.0765,"d":1000},{"s":"S125C5","x":0.0720,"d":1030},{"s":"S125C5","x":0.0755,"d":1045},{"s":"S125C5","x":0.0740,"d":1075},{"s":"S125C5","x":0.0710,"d":1090},{"s":"S125C5","x":0.0725,"d":1120},{"s":"S125C5","x":0.0695,"d":1130},{"s":"S125C5","x":0.0745,"d":1140},{"s":"S125C5","x":0.0715,"d":1170},{"s":"S125C5","x":0.0693,"d":1123},
      {"s":"S125C5","x":0.0080,"d":362},{"s":"S125C5","x":0.0125,"d":364},{"s":"S125C5","x":0.0150,"d":370},{"s":"S125C5","x":0.0205,"d":379},{"s":"S125C5","x":0.0235,"d":383},{"s":"S125C5","x":0.0260,"d":385},{"s":"S125C5","x":0.0292,"d":392},{"s":"S125C5","x":0.0310,"d":398},{"s":"S125C5","x":0.0325,"d":408},{"s":"S125C5","x":0.0348,"d":420},{"s":"S125C5","x":0.0365,"d":432},{"s":"S125C5","x":0.0380,"d":445},{"s":"S125C5","x":0.0400,"d":452},{"s":"S125C5","x":0.0422,"d":458},{"s":"S125C5","x":0.0438,"d":468},{"s":"S125C5","x":0.0450,"d":485},{"s":"S125C5","x":0.0472,"d":488},{"s":"S125C5","x":0.0490,"d":498},{"s":"S125C5","x":0.0508,"d":503},{"s":"S125C5","x":0.0522,"d":510},{"s":"S125C5","x":0.0540,"d":512},{"s":"S125C5","x":0.0555,"d":520},{"s":"S125C5","x":0.0570,"d":530},{"s":"S125C5","x":0.0575,"d":540},{"s":"S125C5","x":0.0582,"d":552},{"s":"S125C5","x":0.0595,"d":565},{"s":"S125C5","x":0.0605,"d":580},{"s":"S125C5","x":0.0600,"d":590},{"s":"S125C5","x":0.0612,"d":605},{"s":"S125C5","x":0.0620,"d":625},{"s":"S125C5","x":0.0635,"d":640},{"s":"S125C5","x":0.0640,"d":650},{"s":"S125C5","x":0.0625,"d":665},{"s":"S125C5","x":0.0648,"d":680},{"s":"S125C5","x":0.0665,"d":690},{"s":"S125C5","x":0.0652,"d":705},{"s":"S125C5","x":0.0680,"d":720},{"s":"S125C5","x":0.0690,"d":730},{"s":"S125C5","x":0.0710,"d":745},{"s":"S125C5","x":0.0730,"d":760},{"s":"S125C5","x":0.0725,"d":775},{"s":"S125C5","x":0.0705,"d":790},{"s":"S125C5","x":0.0720,"d":800},{"s":"S125C5","x":0.0712,"d":830},{"s":"S125C5","x":0.0730,"d":840},{"s":"S125C5","x":0.0740,"d":860},{"s":"S125C5","x":0.0725,"d":870},{"s":"S125C5","x":0.0750,"d":895},{"s":"S125C5","x":0.0740,"d":910},{"s":"S125C5","x":0.0735,"d":930},{"s":"S125C5","x":0.0752,"d":960},{"s":"S125C5","x":0.0738,"d":975},{"s":"S125C5","x":0.0758,"d":990},{"s":"S125C5","x":0.0745,"d":1005},{"s":"S125C5","x":0.0735,"d":1020},{"s":"S125C5","x":0.0748,"d":1035},{"s":"S125C5","x":0.0730,"d":1050},{"s":"S125C5","x":0.0745,"d":1060},{"s":"S125C5","x":0.0725,"d":1080},{"s":"S125C5","x":0.0738,"d":1095},{"s":"S125C5","x":0.0712,"d":1110},{"s":"S125C5","x":0.0720,"d":1135},{"s":"S125C5","x":0.0705,"d":1145},{"s":"S125C5","x":0.0698,"d":1160},{"s":"S125C5","x":0.0712,"d":1180},{"s":"S125C5","x":0.0725,"d":1190},{"s":"S125C5","x":0.0700,"d":1210},{"s":"S125C5","x":0.0655,"d":1220},{"s":"S125C5","x":0.0625,"d":1228},{"s":"S125C5","x":0.0600,"d":1232},{"s":"S125C5","x":0.0592,"d":1236},{"s":"S125C5","x":0.0620,"d":1240},
      {"s":"S125C5","x":0.0985,"d":805},{"s":"S125C5","x":0.1017,"d":977},{"s":"S125C5","x":0.0937,"d":958},{"s":"S125C5","x":0.0887,"d":915},{"s":"S125C5","x":0.0876,"d":922},{"s":"S125C5","x":0.0870,"d":849},{"s":"S125C5","x":0.0812,"d":723},{"s":"S125C5","x":0.0793,"d":751},{"s":"S125C5","x":0.0857,"d":984},{"s":"S125C5","x":0.0860,"d":1015},{"s":"S125C5","x":0.0870,"d":1062},{"s":"S125C5","x":0.0825,"d":852},{"s":"S125C5","x":0.0832,"d":879},{"s":"S125C5","x":0.0807,"d":906},{"s":"S125C5","x":0.0803,"d":828},{"s":"S125C5","x":0.0785,"d":815},{"s":"S125C5","x":0.0764,"d":804},{"s":"S125C5","x":0.0764,"d":863},{"s":"S125C5","x":0.0793,"d":1019},{"s":"S125C5","x":0.0796,"d":1092},{"s":"S125C5","x":0.0771,"d":1066},{"s":"S125C5","x":0.0825,"d":993},
      {"s":"S125C5","x":0.0714,"d":1140},{"s":"S125C5","x":0.0743,"d":1157},{"s":"S125C5","x":0.0700,"d":1175},{"s":"S125C5","x":0.0721,"d":1196},{"s":"S125C5","x":0.0764,"d":1183},{"s":"S125C5","x":0.0785,"d":1202},{"s":"S125C5","x":0.0671,"d":1205},{"s":"S125C5","x":0.0643,"d":1218},{"s":"S125C5","x":0.0614,"d":1222},{"s":"S125C5","x":0.0585,"d":1231},{"s":"S125C5","x":0.0607,"d":1239},{"s":"S125C5","x":0.0714,"d":1250},{"s":"S125C5","x":0.0675,"d":1250},{"s":"S125C5","x":0.0793,"d":1255},{"s":"S125C5","x":0.0818,"d":1257},{"s":"S125C5","x":0.0857,"d":1270},{"s":"S125C5","x":0.0868,"d":1274},{"s":"S125C5","x":0.0889,"d":1257},{"s":"S125C5","x":0.0903,"d":1268},{"s":"S125C5","x":0.0925,"d":1263},{"s":"S125C5","x":0.0952,"d":1272},{"s":"S125C5","x":0.0863,"d":1190},{"s":"S125C5","x":0.0810,"d":1213},
      {"s":"S125C5","x":0.0840,"d":1262},{"s":"S125C5","x":0.0875,"d":1265},{"s":"S125C5","x":0.0880,"d":1278},{"s":"S125C5","x":0.0910,"d":1272},{"s":"S125C5","x":0.0820,"d":1300},{"s":"S125C5","x":0.0830,"d":1318},{"s":"S125C5","x":0.0810,"d":1322},{"s":"S125C5","x":0.0790,"d":1335},{"s":"S125C5","x":0.0750,"d":1345},{"s":"S125C5","x":0.0700,"d":1360},{"s":"S125C5","x":0.0680,"d":1380},{"s":"S125C5","x":0.0655,"d":1385},{"s":"S125C5","x":0.0630,"d":1390},{"s":"S125C5","x":0.0610,"d":1400},{"s":"S125C5","x":0.0580,"d":1412},{"s":"S125C5","x":0.0560,"d":1425},{"s":"S125C5","x":0.0590,"d":1440},{"s":"S125C5","x":0.0700,"d":1470},{"s":"S125C5","x":0.0730,"d":1465},{"s":"S125C5","x":0.0540,"d":1495},{"s":"S125C5","x":0.0490,"d":1510},{"s":"S125C5","x":0.0460,"d":1520},{"s":"S125C5","x":0.0445,"d":1530},{"s":"S125C5","x":0.0420,"d":1525},{"s":"S125C5","x":0.0410,"d":1540},{"s":"S125C5","x":0.0455,"d":1548},{"s":"S125C5","x":0.0500,"d":1560},{"s":"S125C5","x":0.0560,"d":1575},{"s":"S125C5","x":0.0600,"d":1585},{"s":"S125C5","x":0.0660,"d":1580},{"s":"S125C5","x":0.0700,"d":1585},
      {"s":"S125C5","x":0.0707,"d":1294},{"s":"S125C5","x":0.0728,"d":1291},{"s":"S125C5","x":0.0757,"d":1300},{"s":"S125C5","x":0.0793,"d":1304},{"s":"S125C5","x":0.0814,"d":1309},{"s":"S125C5","x":0.0800,"d":1326},{"s":"S125C5","x":0.0785,"d":1329},{"s":"S125C5","x":0.0764,"d":1343},{"s":"S125C5","x":0.0735,"d":1352},{"s":"S125C5","x":0.0857,"d":1335},{"s":"S125C5","x":0.0907,"d":1315},{"s":"S125C5","x":0.0893,"d":1320},
      {"s":"S125C5","x":0.0643,"d":1374},{"s":"S125C5","x":0.0671,"d":1374},{"s":"S125C5","x":0.0693,"d":1369},{"s":"S125C5","x":0.0714,"d":1365},{"s":"S125C5","x":0.0728,"d":1349},{"s":"S125C5","x":0.0664,"d":1391},{"s":"S125C5","x":0.0621,"d":1395},{"s":"S125C5","x":0.0593,"d":1408},{"s":"S125C5","x":0.0571,"d":1417},{"s":"S125C5","x":0.0550,"d":1418},{"s":"S125C5","x":0.0585,"d":1430},{"s":"S125C5","x":0.0603,"d":1447},{"s":"S125C5","x":0.0614,"d":1406},{"s":"S125C5","x":0.0628,"d":1438},{"s":"S125C5","x":0.0671,"d":1447},{"s":"S125C5","x":0.0693,"d":1462},{"s":"S125C5","x":0.0721,"d":1469},{"s":"S125C5","x":0.0743,"d":1469},{"s":"S125C5","x":0.0766,"d":1467},{"s":"S125C5","x":0.0853,"d":1471},{"s":"S125C5","x":0.0775,"d":1391},{"s":"S125C5","x":0.0771,"d":1417},{"s":"S125C5","x":0.0643,"d":1477},
      {"s":"S125C5","x":0.0528,"d":1490},{"s":"S125C5","x":0.0514,"d":1488},{"s":"S125C5","x":0.0500,"d":1508},{"s":"S125C5","x":0.0471,"d":1516},{"s":"S125C5","x":0.0450,"d":1486},{"s":"S125C5","x":0.0428,"d":1521},{"s":"S125C5","x":0.0414,"d":1534},{"s":"S125C5","x":0.0400,"d":1529},{"s":"S125C5","x":0.0436,"d":1542},{"s":"S125C5","x":0.0464,"d":1546},{"s":"S125C5","x":0.0486,"d":1555},{"s":"S125C5","x":0.0564,"d":1490},{"s":"S125C5","x":0.0600,"d":1506},
      {"s":"S125C5","x":0.0528,"d":1564},{"s":"S125C5","x":0.0543,"d":1559},{"s":"S125C5","x":0.0571,"d":1568},{"s":"S125C5","x":0.0585,"d":1585},{"s":"S125C5","x":0.0614,"d":1581},{"s":"S125C5","x":0.0643,"d":1581},{"s":"S125C5","x":0.0678,"d":1555},{"s":"S125C5","x":0.0714,"d":1590},{"s":"S125C5","x":0.0743,"d":1581},{"s":"S125C5","x":0.0978,"d":1574},{"s":"S125C5","x":0.0514,"d":1594},{"s":"S125C5","x":0.0495,"d":1598},
      {"s":"S125C5","x":0.0371,"d":1603},{"s":"S125C5","x":0.0343,"d":1605},{"s":"S125C5","x":0.0314,"d":1611},{"s":"S125C5","x":0.0293,"d":1616},{"s":"S125C5","x":0.0271,"d":1633},{"s":"S125C5","x":0.0250,"d":1620},{"s":"S125C5","x":0.0228,"d":1629},{"s":"S125C5","x":0.0214,"d":1642},{"s":"S125C5","x":0.0193,"d":1650},{"s":"S125C5","x":0.0171,"d":1659},{"s":"S125C5","x":0.0143,"d":1668},{"s":"S125C5","x":0.0114,"d":1676},{"s":"S125C5","x":0.0150,"d":1689},{"s":"S125C5","x":0.0389,"d":1633},{"s":"S125C5","x":0.0323,"d":1711},{"s":"S125C5","x":0.0603,"d":1668},{"s":"S125C5","x":0.0325,"d":1656},
      {"s":"S125C5","x":0.0330,"d":1608},{"s":"S125C5","x":0.0300,"d":1615},{"s":"S125C5","x":0.0260,"d":1625},{"s":"S125C5","x":0.0235,"d":1635},{"s":"S125C5","x":0.0205,"d":1645},{"s":"S125C5","x":0.0180,"d":1655},{"s":"S125C5","x":0.0160,"d":1665},{"s":"S125C5","x":0.0125,"d":1672},{"s":"S125C5","x":0.0095,"d":1675},{"s":"S125C5","x":0.0130,"d":1682},{"s":"S125C5","x":0.0165,"d":1695},{"s":"S125C5","x":0.0185,"d":1705},{"s":"S125C5","x":0.0200,"d":1720},{"s":"S125C5","x":0.0215,"d":1735},{"s":"S125C5","x":0.0225,"d":1750},{"s":"S125C5","x":0.0232,"d":1775},{"s":"S125C5","x":0.0218,"d":1795},{"s":"S125C5","x":0.0235,"d":1815},{"s":"S125C5","x":0.0225,"d":1830},{"s":"S125C5","x":0.0250,"d":1840},{"s":"S125C5","x":0.0210,"d":1850},{"s":"S125C5","x":0.0185,"d":1865},{"s":"S125C5","x":0.0170,"d":1880},{"s":"S125C5","x":0.0150,"d":1900},{"s":"S125C5","x":0.0125,"d":1925},{"s":"S125C5","x":0.0108,"d":1945},{"s":"S125C5","x":0.0118,"d":1955},{"s":"S125C5","x":0.0102,"d":1980},{"s":"S125C5","x":0.0130,"d":1995},{"s":"S125C5","x":0.0135,"d":2020},{"s":"S125C5","x":0.0155,"d":2040},{"s":"S125C5","x":0.0170,"d":2055},{"s":"S125C5","x":0.0158,"d":2075},{"s":"S125C5","x":0.0140,"d":2095},{"s":"S125C5","x":0.0135,"d":2080},
      {"s":"S125C5","x":0.0079,"d":1673},{"s":"S125C5","x":0.0107,"d":1673},{"s":"S125C5","x":0.0136,"d":1669},{"s":"S125C5","x":0.0146,"d":1690},{"s":"S125C5","x":0.0171,"d":1699},{"s":"S125C5","x":0.0193,"d":1712},{"s":"S125C5","x":0.0207,"d":1729},{"s":"S125C5","x":0.0214,"d":1746},{"s":"S125C5","x":0.0236,"d":1759},{"s":"S125C5","x":0.0221,"d":1785},{"s":"S125C5","x":0.0228,"d":1807},{"s":"S125C5","x":0.0243,"d":1837},{"s":"S125C5","x":0.0257,"d":1833},{"s":"S125C5","x":0.0200,"d":1859},{"s":"S125C5","x":0.0179,"d":1876},{"s":"S125C5","x":0.0143,"d":1894},{"s":"S125C5","x":0.0132,"d":1911},{"s":"S125C5","x":0.0114,"d":1937},{"s":"S125C5","x":0.0100,"d":1963},{"s":"S125C5","x":0.0114,"d":1989},{"s":"S125C5","x":0.0121,"d":2006},{"s":"S125C5","x":0.0143,"d":2032},{"s":"S125C5","x":0.0164,"d":2067},{"s":"S125C5","x":0.0150,"d":2084},{"s":"S125C5","x":0.0129,"d":2105},{"s":"S125C5","x":0.0393,"d":2035},{"s":"S125C5","x":0.0490,"d":1751},{"s":"S125C5","x":0.0414,"d":1779},{"s":"S125C5","x":0.0414,"d":1852},{"s":"S125C5","x":0.0446,"d":1850},{"s":"S125C5","x":0.0463,"d":1859},{"s":"S125C5","x":0.0361,"d":1853},{"s":"S125C5","x":0.0343,"d":1824},{"s":"S125C5","x":0.0325,"d":1712},{"s":"S125C5","x":0.0326,"d":1749},{"s":"S125C5","x":0.0303,"d":1846},{"s":"S125C5","x":0.0264,"d":1731},{"s":"S125C5","x":0.0277,"d":1820},{"s":"S125C5","x":0.0179,"d":1989},{"s":"S125C5","x":0.0168,"d":1971},{"s":"S125C5","x":0.0191,"d":2015},{"s":"S125C5","x":0.0216,"d":2058},{"s":"S125C5","x":0.0207,"d":1932},
      {"s":"S125C5","x":0.0225,"d":1770},{"s":"S125C5","x":0.0240,"d":1795},{"s":"S125C5","x":0.0215,"d":1820},{"s":"S125C5","x":0.0230,"d":1850},{"s":"S125C5","x":0.0190,"d":1870},{"s":"S125C5","x":0.0160,"d":1885},{"s":"S125C5","x":0.0140,"d":1920},{"s":"S125C5","x":0.0110,"d":1950},{"s":"S125C5","x":0.0095,"d":1975},{"s":"S125C5","x":0.0125,"d":2000},{"s":"S125C5","x":0.0150,"d":2045},{"s":"S125C5","x":0.0140,"d":2060},{"s":"S125C5","x":0.0160,"d":2090},{"s":"S125C5","x":0.0120,"d":2098}
    ]
  },
  "mark": {"type": "circle", "size": 9, "opacity": 0.75},
  "encoding": {
    "x": {
      "field": "x",
      "type": "quantitative",
      "title": "dNTU",
      "scale": {"domain": [0, 0.2], "nice": false, "zero": false},
      "axis": {
        "values": [0, 0.025, 0.05, 0.075, 0.1, 0.125, 0.15, 0.175, 0.2],
        "format": ".3f",
        "labelPadding": 4,
        "titlePadding": 5
      }
    },
    "y": {
      "field": "d",
      "type": "quantitative",
      "title": "Depth (m)",
      "scale": {"domain": [-105, 2210], "reverse": true, "nice": false, "zero": false},
      "axis": {
        "values": [0, 500, 1000, 1500, 2000],
        "format": "d",
        "labelPadding": 4,
        "titlePadding": 10
      }
    },
    "color": {
      "field": "s",
      "type": "nominal",
      "title": null,
      "scale": {
        "domain": ["S123C1", "S125C1", "S125C5"],
        "range": ["#1f77b4", "#ff7f0e", "#2ca02c"]
      },
      "legend": {
        "orient": "bottom-right",
        "offset": 6,
        "symbolType": "circle",
        "symbolSize": 90,
        "symbolOpacity": 0.7,
        "labelFontSize": 11.5,
        "labelOffset": 12,
        "padding": 7,
        "rowPadding": 4,
        "fillColor": "white",
        "strokeColor": "#cccccc",
        "cornerRadius": 3
      }
    }
  },
  "config": {
    "font": "DejaVu Sans",
    "view": {"stroke": "black", "strokeWidth": 1},
    "axis": {
      "domainColor": "black",
      "tickColor": "black",
      "tickSize": 5,
      "labelColor": "black",
      "titleColor": "black",
      "labelFontSize": 13.5,
      "titleFontSize": 13.5,
      "titleFontWeight": "normal",
      "labelFont": "DejaVu Sans",
      "titleFont": "DejaVu Sans",
      "grid": true,
      "gridColor": "#b0b0b0",
      "gridOpacity": 0.3,
      "gridDash": [4, 3],
      "labelFlush": false
    },
    "legend": {"labelFont": "DejaVu Sans", "labelColor": "black"}
  }
}
